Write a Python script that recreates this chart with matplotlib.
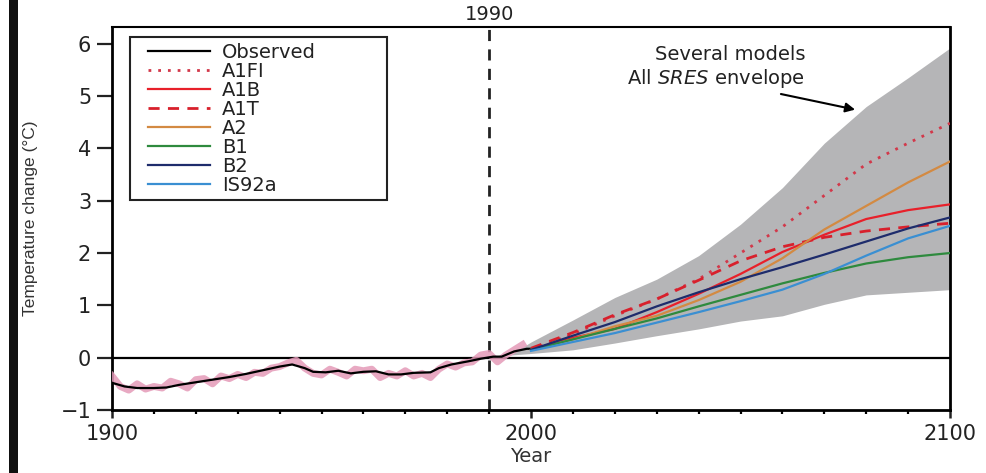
import matplotlib
matplotlib.use("Agg")
import matplotlib.pyplot as plt
from matplotlib.patches import Rectangle

plt.rcParams['font.family'] = ['DejaVu Sans']

# observed, smoothed
obs_years = [1900, 1903, 1906, 1910, 1913, 1916, 1920, 1924, 1928, 1932, 1936, 1940,
             1943, 1946, 1948, 1951, 1954, 1957, 1960, 1963, 1966, 1969, 1972, 1976,
             1978, 1981, 1985, 1988, 1991, 1993, 1996, 1999, 2000]
obs_smooth = [-0.48, -0.55, -0.58, -0.58, -0.57, -0.52, -0.47, -0.42, -0.37, -0.31, -0.24, -0.17,
              -0.13, -0.20, -0.27, -0.28, -0.25, -0.30, -0.27, -0.26, -0.32, -0.32, -0.29, -0.28,
              -0.20, -0.13, -0.07, -0.02, 0.02, 0.02, 0.12, 0.17, 0.17]

# observed, annual (every 2nd year)
ann_years = list(range(1900, 2000, 2))
ann_values = [-0.35, -0.55, -0.62, -0.50, -0.60, -0.55, -0.58, -0.45, -0.50, -0.58,
              -0.42, -0.40, -0.50, -0.35, -0.40, -0.32, -0.38, -0.28, -0.30, -0.20,
              -0.17, -0.10, -0.05, -0.20, -0.30, -0.33, -0.22, -0.28, -0.35, -0.22,
              -0.25, -0.22, -0.38, -0.30, -0.35, -0.25, -0.35, -0.30, -0.38, -0.22,
              -0.12, -0.18, -0.10, -0.08, 0.05, 0.08, -0.08, 0.05, 0.15, 0.25]

# scenario projections
proj_years = [2000, 2010, 2020, 2030, 2040, 2050, 2060, 2070, 2080, 2090, 2100]
a1fi = [0.15, 0.45, 0.80, 1.12, 1.50, 2.00, 2.50, 3.10, 3.70, 4.10, 4.48]
a1b = [0.15, 0.38, 0.55, 0.87, 1.22, 1.60, 2.02, 2.35, 2.65, 2.82, 2.93]
a1t = [0.18, 0.48, 0.82, 1.12, 1.48, 1.85, 2.12, 2.30, 2.42, 2.50, 2.57]
a2 = [0.15, 0.35, 0.60, 0.80, 1.10, 1.45, 1.90, 2.45, 2.90, 3.35, 3.75]
b1 = [0.15, 0.35, 0.55, 0.75, 0.98, 1.20, 1.42, 1.62, 1.80, 1.92, 2.00]
b2 = [0.15, 0.42, 0.68, 0.98, 1.25, 1.50, 1.73, 1.97, 2.22, 2.47, 2.68]
is92a = [0.13, 0.30, 0.47, 0.67, 0.87, 1.08, 1.30, 1.60, 1.95, 2.28, 2.52]

# envelope of all SRES model runs
env_years = [1995, 2000, 2010, 2020, 2030, 2040, 2050, 2060, 2070, 2080, 2090, 2100]
env_upper = [0.05, 0.30, 0.72, 1.15, 1.50, 1.95, 2.55, 3.25, 4.10, 4.80, 5.35, 5.92]
env_lower = [0.05, 0.08, 0.15, 0.28, 0.42, 0.55, 0.70, 0.80, 1.02, 1.20, 1.25, 1.30]

labels = ['Observed', 'A1FI', 'A1B', 'A1T', 'A2', 'B1', 'B2', 'IS92a']

W, H = 986, 473
fig = plt.figure(figsize=(W / 100, H / 100), dpi=100)
ax = fig.add_axes([112 / W, 1 - 410 / H, 838 / W, 383 / H])

ax.fill_between(env_years, env_lower, env_upper, color='#b5b5b7', lw=0, zorder=1)
ax.axhline(0, color='black', lw=1.6, zorder=2)
ax.axvline(1990, color='#222222', lw=2, ls=(0, (4, 3)), zorder=2)

ax.plot(ann_years, ann_values, color='#e49ab8', lw=5, alpha=0.85, zorder=3)
obs_line, = ax.plot(obs_years, obs_smooth, color='black', lw=1.6, zorder=4)

l_a1fi, = ax.plot(proj_years, a1fi, color='#d2384a', lw=2, ls=(0, (1, 2.5)), zorder=5)
l_a1b, = ax.plot(proj_years, a1b, color='#e8202a', lw=1.6, zorder=5)
l_a1t, = ax.plot(proj_years, a1t, color='#d8202c', lw=2, ls=(0, (4, 3)), zorder=5)
l_a2, = ax.plot(proj_years, a2, color='#d38a42', lw=1.6, zorder=5)
l_b1, = ax.plot(proj_years, b1, color='#2e8a3e', lw=1.6, zorder=5)
l_b2, = ax.plot(proj_years, b2, color='#1e2c6c', lw=1.6, zorder=5)
l_is, = ax.plot(proj_years, is92a, color='#3a8fd2', lw=1.6, zorder=5)

ax.set_xlim(1900, 2100)
ax.set_ylim(-1, 6.32)
ax.set_xticks([1900, 2000, 2100])
ax.set_xticks(range(1910, 2100, 10), minor=True)
ax.set_yticks(range(-1, 7))
ax.set_yticklabels(['\u22121', '0', '1', '2', '3', '4', '5', '6'])
ax.tick_params(axis='y', length=11, width=1.6, labelsize=15, pad=4, colors='#222222')
ax.tick_params(axis='x', which='major', length=6, width=1.8, labelsize=15, pad=4, colors='#222222')
ax.tick_params(axis='x', which='minor', length=3, width=1.6)
for side in ['left', 'bottom', 'right']:
    ax.spines[side].set_linewidth(2)
ax.spines['top'].set_linewidth(1.5)

ax.set_ylabel('Temperature change (\u00b0C)', fontsize=12.5,
              family=['Liberation Sans', 'DejaVu Sans'], color='#333333')
ax.yaxis.set_label_coords(-0.088, 0.5)
fig.text(531 / W, 1 - 456 / H, 'Year', ha='center', va='center', fontsize=14, color='#333333')
fig.text(490 / W, 1 - 14 / H, '1990', ha='center', va='center', fontsize=14, color='#222222')

ax.text(2065.4, 5.68, 'Several models', ha='right', va='baseline',
        fontsize=14, color='#222222')
ax.text(2065.4, 5.23, 'All $\\it{SRES}$ envelope', ha='right', va='baseline',
        fontsize=14, color='#222222')
ax.annotate('', xy=(2078, 4.73), xytext=(2059, 5.05),
            arrowprops=dict(arrowstyle='-|>', color='black', lw=1.5, mutation_scale=14))

# legend frame drawn separately, legend entries without frame
ax.add_patch(Rectangle((130 / W, 1 - 200 / H), 257 / W, 163 / H, transform=fig.transFigure,
                       facecolor='white', edgecolor='#222222', lw=1.5, zorder=6))
leg = ax.legend([obs_line, l_a1fi, l_a1b, l_a1t, l_a2, l_b1, l_b2, l_is], labels,
                loc='upper left', bbox_to_anchor=(148 / W, 1 - 43 / H),
                bbox_transform=fig.transFigure, frameon=False,
                fontsize=14, labelspacing=0.0, handlelength=3.2, handletextpad=0.62,
                borderpad=0, borderaxespad=0)
leg.set_zorder(7)
for t in leg.get_texts():
    t.set_color('#222222')

# black bar at the left edge of the picture
fig.add_artist(Rectangle((9 / W, 0), 9 / W, 1, transform=fig.transFigure,
                         color='#111111', lw=0))

fig.savefig('out.png', dpi=100)
